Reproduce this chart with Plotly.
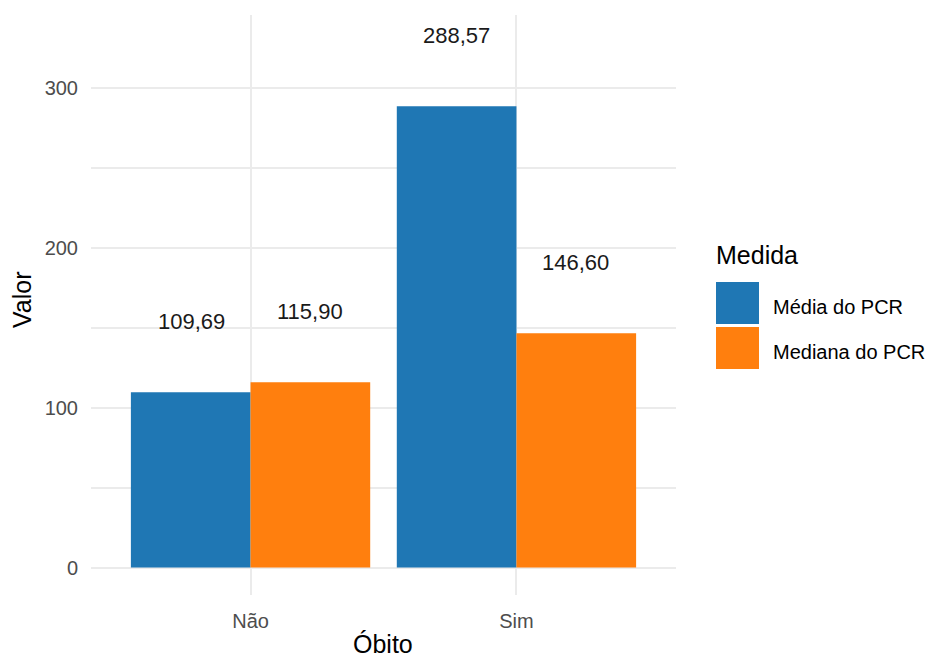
import plotly.graph_objects as go

categories = ["Não", "Sim"]
series_names = ["Média do PCR", "Mediana do PCR"]
media_values = [109.69, 288.57]
mediana_values = [115.90, 146.60]
colors = ["#1F77B4", "#FF7F0E"]
y_ticks = [0, 100, 200, 300]

FONT = "Liberation Sans, Arial, sans-serif"
OFF = 8  # page body margin
W, H = 933 - OFF, 660 - OFF
# panel in screenshot pixels: x 91..676, y 15..595
L, T = 91 - OFF, 15 - OFF
R = W - (676 - OFF)
B = H - (595 - OFF)
pw, ph = W - L - R, H - T - B

def px_x(px):
    return (px - OFF - L) / pw

def px_y(py):
    return (H - B - (py - OFF)) / ph

fig = go.Figure()
all_values = [media_values, mediana_values]
for name, vals, col in zip(series_names, all_values, colors):
    fig.add_trace(go.Bar(x=categories, y=vals, name=name, marker=dict(color=col, line=dict(width=0)),
                         showlegend=False))

# value labels
offsets = [-59.5, 59.5]
for vals, off in zip(all_values, offsets):
    for c, v in zip(categories, vals):
        fig.add_annotation(x=c, y=v, xref="x", yref="y", text=f"{v:.2f}".replace(".", ","),
                           showarrow=False, xshift=off, yshift=71,
                           font=dict(family=FONT, size=22, color="#1a1a1a"))

fig.update_layout(
    width=W, height=H,
    margin=dict(l=L, r=R, t=T, b=B),
    paper_bgcolor="white", plot_bgcolor="white",
    barmode="group", bargap=0.1, bargroupgap=0,
    font=dict(family=FONT),
)
fig.update_xaxes(range=[-0.6, 1.6], showgrid=True, gridcolor="#EBEBEB", gridwidth=2,
                 zeroline=False, showline=False, ticks="", ticklabelstandoff=12,
                 tickfont=dict(family=FONT, size=20, color="#4D4D4D"))
fig.update_yaxes(range=[-17.2, 345.7], tickvals=y_ticks, showgrid=True, gridcolor="#EBEBEB", gridwidth=2,
                 zeroline=False, showline=False, ticks="", ticklabelstandoff=12,
                 tickfont=dict(family=FONT, size=20, color="#4D4D4D"),
                 minor=dict(tickvals=[50, 150, 250], showgrid=True, gridcolor="#EBEBEB", gridwidth=1.5))

# axis titles
fig.add_annotation(text="Óbito", xref="paper", yref="paper", x=px_x(383), y=px_y(644),
                   showarrow=False, xanchor="center", yanchor="middle",
                   font=dict(family=FONT, size=25, color="black"))
fig.add_annotation(text="Valor", xref="paper", yref="paper", x=px_x(22), y=px_y(300),
                   showarrow=False, xanchor="center", yanchor="middle", textangle=-90,
                   font=dict(family=FONT, size=25, color="black"))

# legend (custom)
fig.add_annotation(text="Medida", xref="paper", yref="paper", x=px_x(714), y=px_y(255),
                   showarrow=False, xanchor="left", yanchor="middle",
                   font=dict(family=FONT, size=25, color="black"))
key_tops = [282, 327]
text_centers = [307, 352]
for name, col, kt, tc in zip(series_names, colors, key_tops, text_centers):
    fig.add_shape(type="rect", xref="paper", yref="paper",
                  x0=px_x(716), x1=px_x(759), y0=px_y(kt + 42), y1=px_y(kt),
                  fillcolor=col, line=dict(width=0))
    fig.add_annotation(text=name, xref="paper", yref="paper", x=px_x(771), y=px_y(tc),
                       showarrow=False, xanchor="left", yanchor="middle",
                       font=dict(family=FONT, size=20, color="black"))

fig.write_html("out.html")
